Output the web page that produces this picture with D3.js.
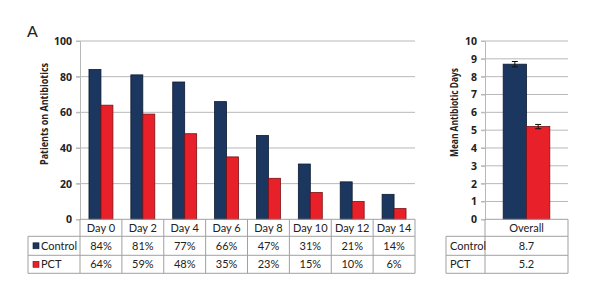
<!DOCTYPE html>
<html>
<head>
  <meta charset="utf-8">
  <script src="https://d3js.org/d3.v7.min.js"></script>
  <style>
    html, body { margin: 0; padding: 0; background: #fff; }
    svg { font-family: Lato, "Open Sans", sans-serif; }
  </style>
</head>
<body>
  <div id="chart"></div>
  <script>
    // data
    var days = ["Day 0", "Day 2", "Day 4", "Day 6", "Day 8", "Day 10", "Day 12", "Day 14"];
    var controlPct = [84, 81, 77, 66, 47, 31, 21, 14];
    var pctPct = [64, 59, 48, 35, 23, 15, 10, 6];
    var leftTicks = [0, 20, 40, 60, 80, 100];

    var overallLabel = ["Overall"];
    var controlMean = [8.7];
    var pctMean = [5.2];
    var controlErr = [0.15];
    var pctErr = [0.12];
    var rightTicks = [0, 1, 2, 3, 4, 5, 6, 7, 8, 9, 10];

    var seriesNames = ["Control", "PCT"];
    var colors = ["#1b365f", "#e8202a"];
    var strokes = ["#0c1a30", "#7a1015"];

    var W = 594, H = 281;
    var svg = d3.select("#chart").append("svg")
      .attr("width", W).attr("height", H);

    var gridColor = "#b8b8b8", tableColor = "#a0a0a0";
    var boldFont = "'Open Sans', sans-serif";
    var rowH = [17, 19, 18]; // header, control, pct

    function drawPanel(opts) {
      var x = d3.scaleBand().domain(opts.cats).range([opts.x0, opts.x1]);
      var y = d3.scaleLinear().domain(opts.domain).range([opts.y0, opts.yTop]);
      var inner = d3.scaleBand().domain([0, 1])
        .range([0, x.bandwidth()]).paddingOuter(opts.pad).paddingInner(0);

      // gridlines
      svg.append("g").selectAll("line").data(opts.ticks.slice(1)).join("line")
        .attr("x1", opts.x0 - 4).attr("x2", opts.x1)
        .attr("y1", d => y(d)).attr("y2", d => y(d))
        .attr("stroke", gridColor).attr("stroke-width", 1);

      // axis
      var axis = svg.append("g")
        .attr("transform", "translate(" + opts.x0 + ",0)")
        .call(d3.axisLeft(y).tickValues(opts.ticks).tickSize(4).tickPadding(4));
      axis.select(".domain").attr("stroke", gridColor);
      axis.selectAll(".tick line").attr("stroke", gridColor);
      axis.selectAll(".tick text")
        .attr("font-size", 10.5).attr("font-weight", "bold").attr("fill", "#222")
        .attr("font-family", boldFont);

      // bars
      [opts.a, opts.b].forEach(function (vals, s) {
        svg.append("g").selectAll("rect").data(vals).join("rect")
          .attr("x", (d, i) => x(opts.cats[i]) + inner(s))
          .attr("y", d => y(d))
          .attr("width", inner.bandwidth())
          .attr("height", d => opts.y0 - y(d))
          .attr("fill", colors[s])
          .attr("stroke", strokes[s]).attr("stroke-width", 0.8);
      });

      // error bars
      if (opts.errs) {
        [opts.a, opts.b].forEach(function (vals, s) {
          vals.forEach(function (v, i) {
            var cx = x(opts.cats[i]) + inner(s) + inner.bandwidth() / 2;
            var e = opts.errs[s][i];
            var g = svg.append("g").attr("stroke", "#111").attr("stroke-width", 1);
            g.append("line").attr("x1", cx).attr("x2", cx).attr("y1", y(v - e)).attr("y2", y(v + e));
            g.append("line").attr("x1", cx - 3).attr("x2", cx + 3).attr("y1", y(v - e)).attr("y2", y(v - e));
            g.append("line").attr("x1", cx - 3).attr("x2", cx + 3).attr("y1", y(v + e)).attr("y2", y(v + e));
          });
        });
      }

      // table
      var t = svg.append("g").attr("font-size", 11).attr("fill", "#222");
      var r0 = opts.y0, r1 = r0 + rowH[0], r2 = r1 + rowH[1], r3 = r2 + rowH[2];
      function hline(xa, xb, yy) {
        t.append("line").attr("x1", xa).attr("x2", xb).attr("y1", yy).attr("y2", yy)
          .attr("stroke", tableColor);
      }
      function vline(xx, ya, yb) {
        t.append("line").attr("x1", xx).attr("x2", xx).attr("y1", ya).attr("y2", yb)
          .attr("stroke", tableColor);
      }
      hline(opts.x0, opts.x1, r0);
      hline(opts.tableLeft, opts.x1, r1);
      hline(opts.tableLeft, opts.x1, r2);
      hline(opts.tableLeft, opts.x1, r3);
      vline(opts.tableLeft, r1, r3);
      vline(opts.x0, r0, r3);
      opts.cats.forEach(function (c) {
        vline(x(c) + x.bandwidth(), r0, r3);
      });
      // header
      t.selectAll(".hdr").data(opts.cats).join("text")
        .attr("x", d => x(d) + x.bandwidth() / 2).attr("y", (r0 + r1) / 2 + 4)
        .attr("text-anchor", "middle").text(d => d);
      // rows
      [opts.a, opts.b].forEach(function (vals, s) {
        var ry = s === 0 ? (r1 + r2) / 2 + 4 : (r2 + r3) / 2 + 4;
        t.append("g").selectAll("text").data(vals).join("text")
          .attr("x", (d, i) => x(opts.cats[i]) + x.bandwidth() / 2).attr("y", ry)
          .attr("text-anchor", "middle").text(opts.fmt);
        var lx = opts.tableLeft + 4;
        if (opts.legend) {
          t.append("rect").attr("x", lx + 1).attr("y", ry - 7).attr("width", 6).attr("height", 6)
            .attr("fill", colors[s]).attr("stroke", strokes[s]).attr("stroke-width", 0.6);
          lx += 9;
        }
        t.append("text").attr("x", lx).attr("y", ry).text(seriesNames[s]);
      });

      // y label
      svg.append("text")
        .attr("transform", "translate(" + opts.labelX + "," + opts.labelY + ") rotate(-90)")
        .attr("text-anchor", "middle").attr("font-size", 10).attr("font-weight", "bold")
        .attr("font-family", boldFont)
        .attr("textLength", opts.labelLen).attr("lengthAdjust", "spacingAndGlyphs")
        .attr("fill", "#222").text(opts.label);
    }

    drawPanel({
      cats: days, a: controlPct, b: pctPct, domain: [0, 100], ticks: leftTicks,
      x0: 80, x1: 415, y0: 219.3, yTop: 41, pad: 0.75,
      tableLeft: 28, legend: true, fmt: d => d + "%",
      label: "Patients on Antibiotics", labelX: 47.5, labelY: 114, labelLen: 102
    });

    drawPanel({
      cats: overallLabel, a: controlMean, b: pctMean, domain: [0, 10], ticks: rightTicks,
      x0: 485, x1: 568, y0: 219.3, yTop: 41, pad: 0.78,
      errs: [controlErr, pctErr],
      tableLeft: 446, legend: false, fmt: d => d.toFixed(1),
      label: "Mean Antibiotic Days", labelX: 457.5, labelY: 112.5, labelLen: 89
    });

    svg.append("text").attr("x", 27).attr("y", 37)
      .attr("font-size", 16).attr("fill", "#222").text("A");
  </script>
</body>
</html>
